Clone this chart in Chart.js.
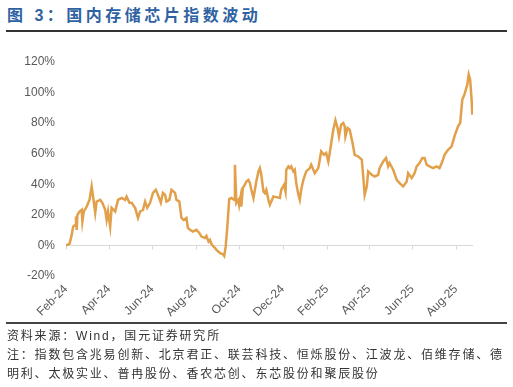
<!DOCTYPE html>
<html>
<head>
<meta charset="utf-8">
<script src="https://cdn.jsdelivr.net/npm/chart.js@4.4.1/dist/chart.umd.min.js"></script>
<style>
  body { margin: 0; width: 513px; height: 387px; background: #fff; position: relative; overflow: hidden;
         font-family: "Liberation Sans", "Noto Sans CJK SC", sans-serif; }
  #title { position: absolute; left: 7px; top: 5px; font-size: 16px; font-weight: bold; color: #2f62a3;
           letter-spacing: 3.5px; white-space: nowrap; line-height: 22px; }
  .rule { position: absolute; left: 6px; width: 501px; background: #333; }
  #wrap { position: absolute; left: 0; top: 40px; width: 513px; height: 284px; }
  .note { position: absolute; left: 7px; font-size: 12px; color: #333; letter-spacing: 1.8px;
          white-space: nowrap; line-height: 16px; }
</style>
</head>
<body>
<div id="title">图 3：国内存储芯片指数波动</div>
<div class="rule" style="top:30px;height:1.5px"></div>
<div id="wrap"><canvas id="myChart"></canvas></div>
<div class="rule" style="top:322px;height:2px;background:#444"></div>
<div class="note" style="top:328px">资料来源：Wind，国元证券研究所</div>
<div class="note" style="top:347px">注：指数包含兆易创新、北京君正、联芸科技、恒烁股份、江波龙、佰维存储、德</div>
<div class="note" style="top:366px">明利、太极实业、普冉股份、香农芯创、东芯股份和聚辰股份</div>

<script>
// days since 2024-02-01
const days = [
  0, 5, 8, 10, 13, 14, 15, 16, 19, 22,
  23, 25, 29, 33, 36, 38, 41, 43, 48, 51,
  55, 57, 59, 62, 64, 69, 73, 78, 83, 85,
  89, 92, 97, 101, 104, 108, 111, 114, 118, 122,
  126, 129, 133, 136, 139, 141, 145, 148, 153, 155,
  159, 162, 165, 169, 171, 174, 178, 183, 187, 190,
  195, 197, 200, 202, 204, 207, 209, 211, 214, 216,
  220, 222, 224, 226, 229, 232, 236, 237, 239, 242,
  243, 245, 246, 248, 251, 253, 256, 258, 260, 263,
  265, 267, 270, 272, 274, 277, 279, 281, 284, 286,
  288, 291, 295, 300, 302, 306, 308, 309, 312, 314,
  316, 319, 321, 323, 326, 328, 330, 333, 337, 342,
  344, 349, 354, 358, 362, 365, 368, 370, 375, 378,
  381, 383, 386, 389, 391, 392, 395, 398, 402, 405,
  410, 415, 417, 419, 422, 424, 429, 433, 438, 440,
  445, 449, 452, 454, 459, 464, 468, 473, 478, 480,
  485, 489, 492, 496, 500, 503, 506, 510, 515, 520,
  524, 528, 531, 536, 541, 545, 550, 553, 556, 559,
  563, 565, 567, 569, 570, 571
];

// index change, %
const indexValues = [
  0, 1.0, 6.9, 12.3, 13.4, 18.9, 10.2, 20.0, 22.2, 23.3,
  15.6, 22.2, 25.4, 29.8, 38.6, 32.0, 21.3, 28.7, 29.8, 27.9,
  23.3, 16.7, 22.2, 12.3, 24.6, 22.2, 29.8, 31.1, 29.8, 32.0,
  27.9, 27.9, 24.6, 18.0, 22.2, 23.3, 28.7, 24.6, 27.9, 34.4,
  36.4, 33.1, 27.9, 34.4, 33.1, 28.7, 29.8, 36.4, 34.4, 29.8,
  28.7, 18.0, 16.7, 18.0, 11.5, 10.2, 9.0, 10.2, 8.2, 5.8,
  4.9, 6.2, 2.5, 3.6, 1.0, -0.8, -1.6, -3.0, -4.1, -5.1,
  -5.6, -6.9, -0.8, 10.2, 30.3, 31.0, 29.8, 52.8, 27.7, 29.8,
  26.6, 32.0, 25.4, 37.5, 39.7, 41.8, 42.9, 40.8, 36.4, 31.0,
  36.4, 41.8, 48.4, 50.6, 46.2, 35.3, 34.2, 36.4, 29.8, 26.6,
  28.7, 32.0, 31.6, 31.0, 36.4, 39.7, 35.3, 49.5, 51.7, 50.6,
  51.7, 48.4, 49.5, 40.8, 33.1, 29.8, 36.4, 42.9, 48.4, 50.6,
  52.8, 47.3, 50.6, 61.5, 59.3, 60.5, 54.9, 60.5, 75.7, 81.8,
  76.8, 71.3, 79.0, 80.1, 77.9, 71.3, 76.8, 75.7, 67.0, 59.3,
  58.2, 56.1, 45.1, 33.1, 38.6, 48.4, 46.2, 45.1, 46.2, 50.6,
  54.9, 57.2, 51.7, 53.9, 49.5, 42.9, 40.8, 38.6, 41.8, 47.3,
  44.1, 47.3, 51.7, 53.9, 57.2, 57.2, 52.8, 51.7, 50.6, 51.7,
  50.6, 54.9, 59.3, 62.6, 64.8, 71.3, 77.9, 80.1, 95.4, 98.7,
  105.2, 111.8, 108.5, 95.4, 85.6, 94.3
];

const tickMonths = ["2024-02", "2024-04", "2024-06", "2024-08", "2024-10",
                    "2024-12", "2025-02", "2025-04", "2025-06", "2025-08"];
const tickLabels = ["Feb-24", "Apr-24", "Jun-24", "Aug-24", "Oct-24",
                    "Dec-24", "Feb-25", "Apr-25", "Jun-25", "Aug-25"];

const start = Date.UTC(2024, 1, 1);
const tickDays = tickMonths.map((m) => {
  const [y, mo] = m.split("-").map(Number);
  return (Date.UTC(y, mo - 1, 1) - start) / 86400000;
});

// small tick marks hanging under the 0% line
const zeroTicks = {
  id: "zeroTicks",
  beforeDatasetsDraw(chart) {
    const { ctx, scales } = chart;
    const y0 = scales.y.getPixelForValue(0);
    ctx.save();
    ctx.strokeStyle = "#d9d9d9";
    ctx.lineWidth = 1;
    tickDays.forEach((d) => {
      const x = Math.round(scales.x.getPixelForValue(d)) + 0.5;
      ctx.beginPath();
      ctx.moveTo(x, y0);
      ctx.lineTo(x, y0 + 4);
      ctx.stroke();
    });
    ctx.restore();
  },
};

const ctx = document.getElementById("myChart");

new Chart(ctx, {
  type: "line",
  data: {
    datasets: [
      {
        data: days.map((d, i) => ({ x: d, y: indexValues[i] })),
        borderColor: "#e2a04a",
        borderWidth: 2.5,
        pointRadius: 0,
        tension: 0,
      },
    ],
  },
  plugins: [zeroTicks],
  options: {
    animation: false,
    responsive: true,
    maintainAspectRatio: false,
    layout: { padding: { left: 10, right: 40, top: 22, bottom: 0 } },
    plugins: {
      legend: { display: false },
      tooltip: { enabled: false },
    },
    scales: {
      x: {
        type: "linear",
        min: 0,
        max: 571,
        afterBuildTicks: (axis) => {
          axis.ticks = tickDays.map((v) => ({ value: v }));
        },
        afterFit: (axis) => {
          axis.height = 48;
        },
        ticks: {
          autoSkip: false,
          minRotation: 45,
          maxRotation: 45,
          padding: -2,
          color: "#595959",
          font: { family: "Liberation Sans", size: 12 },
          callback: (value, index) => tickLabels[index],
        },
        grid: { display: false },
        border: { display: false },
      },
      y: {
        min: -20,
        max: 120,
        afterFit: (axis) => {
          axis.width = 56;
        },
        ticks: {
          stepSize: 20,
          padding: 11,
          color: "#595959",
          font: { family: "Liberation Sans", size: 12 },
          callback: (value) => value + "%",
        },
        grid: {
          drawTicks: false,
          color: (c) => (c.tick && c.tick.value === 0 ? "#d9d9d9" : "rgba(0,0,0,0)"),
        },
        border: { display: false },
      },
    },
  },
});
</script>
</body>
</html>
